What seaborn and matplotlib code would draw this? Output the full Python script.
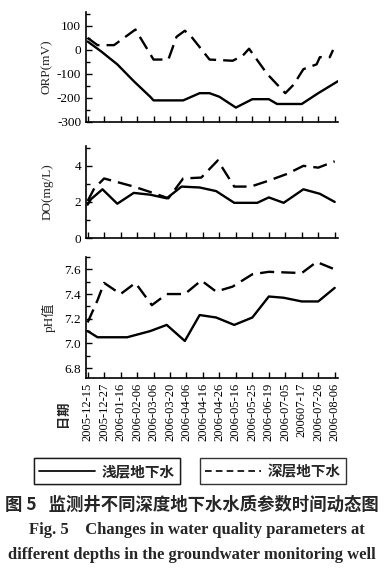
import matplotlib
matplotlib.use("Agg")
import matplotlib.pyplot as plt
import seaborn as sns
import numpy as np
from matplotlib.ticker import MultipleLocator
from matplotlib.lines import Line2D

sns.set_theme(style="ticks")
plt.rcParams['font.family'] = ['Liberation Serif', 'Noto Sans CJK SC']

dates = ["2005-12-15", "2005-12-27", "2006-01-16", "2006-02-06", "2006-03-06",
         "2006-03-20", "2006-04-06", "2006-04-16", "2006-04-26", "2006-05-16",
         "2006-05-25", "2006-06-19", "2006-07-05", "200607-17", "2006-07-26",
         "2006-08-06"]

# positions are in date-index units (0 = first date)
orp_shallow_x = [0, 0.2, 0.8, 1.8, 2.8, 3.8, 4.0, 5.8, 6.8, 7.4, 8.0, 9.0, 10.0, 11.0, 11.5, 13.0, 14.0, 15.2]
orp_shallow = [35, 25, -5, -60, -130, -195, -210, -210, -180, -180, -195, -240, -205, -205, -225, -225, -180, -130]
orp_deep_x = [0, 0.6, 1.6, 2.4, 2.9, 4.0, 4.9, 5.4, 5.9, 6.3, 7.4, 8.8, 9.4, 9.8, 10.9, 12.0, 12.5, 13.1, 13.9, 14.1, 14.7, 14.9]
orp_deep = [50, 20, 20, 60, 85, -40, -40, 55, 80, 55, -40, -45, -25, 5, -100, -180, -145, -80, -60, -30, -30, 0]

do_shallow_x = [0, 0.2, 0.9, 1.8, 2.8, 3.8, 4.8, 5.7, 6.8, 7.8, 8.9, 10.3, 11.0, 11.9, 13.1, 14.1, 15.0]
do_shallow = [1.85, 2.15, 2.7, 1.9, 2.5, 2.4, 2.2, 2.85, 2.8, 2.6, 1.95, 1.95, 2.25, 1.95, 2.7, 2.45, 2.0]
do_deep_x = [0, 0.4, 1.0, 1.8, 2.8, 3.8, 4.6, 4.9, 5.8, 6.9, 7.9, 8.9, 9.9, 10.9, 12.1, 13.1, 14.0, 15.0]
do_deep = [2.05, 2.75, 3.3, 3.1, 2.85, 2.55, 2.3, 2.2, 3.3, 3.35, 4.3, 2.85, 2.85, 3.15, 3.55, 4.0, 3.9, 4.25]

ph_shallow_x = [0, 0.6, 2.4, 3.8, 4.8, 5.9, 6.8, 7.8, 8.9, 10.0, 11.0, 11.9, 13.0, 14.0, 15.0]
ph_shallow = [7.1, 7.05, 7.05, 7.1, 7.15, 7.02, 7.23, 7.21, 7.15, 7.21, 7.38, 7.37, 7.34, 7.34, 7.45]
ph_deep_x = [0, 0.6, 1.0, 2.0, 2.9, 3.9, 4.8, 5.9, 6.9, 7.8, 8.8, 10.0, 11.0, 13.0, 13.9, 15.0]
ph_deep = [7.17, 7.35, 7.49, 7.4, 7.49, 7.31, 7.4, 7.4, 7.51, 7.42, 7.46, 7.56, 7.58, 7.57, 7.66, 7.6]

shallow_label = "浅层地下水"
deep_label = "深层地下水"
date_axis_label = "日期"

fig = plt.figure(figsize=(3.84, 5.77), dpi=100)
W, H = 384, 577
def box(l, t, r, b):
    return [l / W, 1 - b / H, (r - l) / W, (b - t) / H]

ax1 = fig.add_axes(box(86, 12, 338, 122))
ax2 = fig.add_axes(box(86, 146, 338, 238))
ax3 = fig.add_axes(box(86, 257, 338, 378))

dash = (6, 3)
panels = [
    (ax1, orp_shallow_x, orp_shallow, orp_deep_x, orp_deep, (-300, 158), 100, 50, "ORP(mV)", "{:.0f}", -0.13),
    (ax2, do_shallow_x, do_shallow, do_deep_x, do_deep, (0, 5.1), 2, 1, "DO(mg/L)", "{:.0f}", -0.13),
    (ax3, ph_shallow_x, ph_shallow, ph_deep_x, ph_deep, (6.72, 7.7), 0.2, 0.1, "pH值", "{:.1f}", -0.12),
]
for ax, xs, ys, xd, yd, ylim, major, minor, ylab, fmt, lx in panels:
    sns.lineplot(x=xs, y=ys, ax=ax, color="black", linewidth=1.7, sort=False)
    sns.lineplot(x=xd, y=yd, ax=ax, color="black", linewidth=1.7, sort=False,
                 linestyle=(0, dash))
    ax.set_xlim(-0.1, 15.2)
    ax.set_ylim(*ylim)
    ax.set_xticks(range(len(dates)))
    ax.yaxis.set_major_locator(MultipleLocator(major))
    ax.yaxis.set_minor_locator(MultipleLocator(minor))
    ax.set_yticklabels([fmt.format(v) for v in ax.get_yticks()])
    ax.set_ylim(*ylim)
    ax.tick_params(axis="both", which="both", direction="in", labelsize=9.5, width=1.0,
                   colors="black")
    ax.tick_params(axis="both", which="major", length=4)
    ax.tick_params(axis="y", which="minor", length=3)
    for s in ["top", "right"]:
        ax.spines[s].set_visible(False)
    for s in ["left", "bottom"]:
        ax.spines[s].set_linewidth(1.2)
        ax.spines[s].set_color("black")
    ax.set_ylabel(ylab, fontsize=9.5)
    ax.yaxis.set_label_coords(lx, 0.5)
    ax.set_xlabel("")
    ax.set_facecolor("white")

ax1.set_xticklabels([])
ax2.set_xticklabels([])
ax3.set_xticklabels(dates, rotation=90, fontsize=9)

fig.text(63 / W, 1 - 414 / H, date_axis_label, rotation=90, ha="center", va="center",
         fontsize=9.5, family=["Noto Sans CJK SC"], fontweight="bold")

# legends
leg_prop = {"family": ["Noto Sans CJK SC"], "weight": "bold", "size": 10.5}
leg1 = fig.legend(handles=[Line2D([], [], color="black", linewidth=1.2)], labels=[shallow_label],
                  loc="center", bbox_to_anchor=(107 / W, 1 - 471 / H), frameon=True,
                  fancybox=False, edgecolor="black", handlelength=3.8, borderpad=0.35,
                  handletextpad=0.5, prop=leg_prop)
leg1.get_frame().set_linewidth(1.0)
fig.add_artist(leg1)
leg2 = fig.legend(handles=[Line2D([], [], color="black", linewidth=1.2, linestyle=(0, (4, 2.5)))],
                  labels=[deep_label], loc="center", bbox_to_anchor=(273 / W, 1 - 471 / H),
                  frameon=True, fancybox=False, edgecolor="black", handlelength=3.8,
                  borderpad=0.35, handletextpad=0.5, prop=leg_prop)
leg2.get_frame().set_linewidth(1.0)

fig.text(0.5, 1 - 505 / H, "图 5   监测井不同深度地下水水质参数时间动态图", ha="center", va="center",
         fontsize=12.5, fontweight="bold", family=["Noto Sans CJK SC", "DejaVu Sans"])
fig.text(197 / W, 1 - 530 / H, "Fig. 5    Changes in water quality parameters at", ha="center",
         va="center", fontsize=12, fontweight="bold", family=["Liberation Serif"])
fig.text(0.5, 1 - 555 / H, "different depths in the groundwater monitoring well", ha="center",
         va="center", fontsize=12, fontweight="bold", family=["Liberation Serif"])

fig.savefig("out.png", dpi=100, facecolor="white")
